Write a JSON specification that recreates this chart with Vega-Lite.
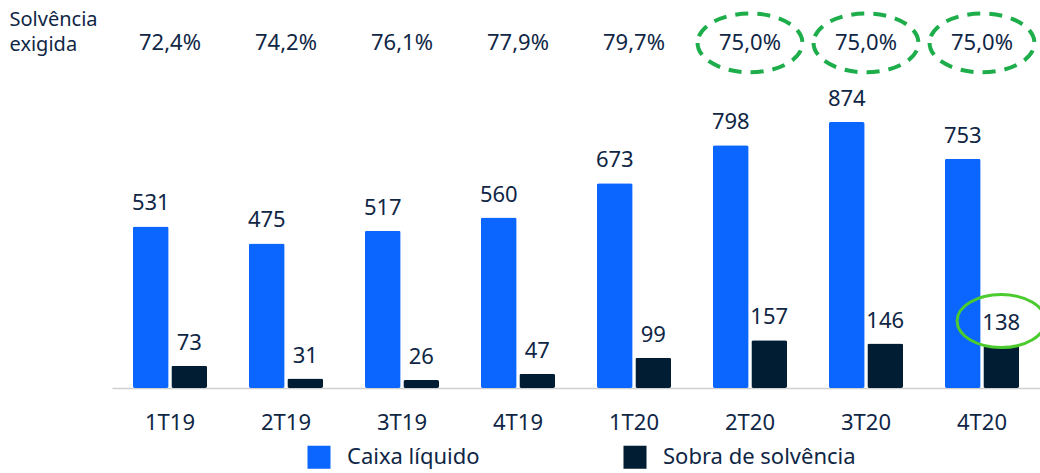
{
  "$schema": "https://vega.github.io/schema/vega-lite/v6.json",
  "width": 928,
  "height": 388,
  "autosize": {"type": "none"},
  "padding": {"left": 112, "top": 0, "right": 0, "bottom": 85},
  "config": {"view": {"stroke": null}, "font": "Noto Sans", "background": "white"},
  "datasets": {
    "bars": [
      {"q": "1T19", "serie": "Caixa líquido", "v": 531},
      {"q": "1T19", "serie": "Sobra de solvência", "v": 73},
      {"q": "2T19", "serie": "Caixa líquido", "v": 475},
      {"q": "2T19", "serie": "Sobra de solvência", "v": 31},
      {"q": "3T19", "serie": "Caixa líquido", "v": 517},
      {"q": "3T19", "serie": "Sobra de solvência", "v": 26},
      {"q": "4T19", "serie": "Caixa líquido", "v": 560},
      {"q": "4T19", "serie": "Sobra de solvência", "v": 47},
      {"q": "1T20", "serie": "Caixa líquido", "v": 673},
      {"q": "1T20", "serie": "Sobra de solvência", "v": 99},
      {"q": "2T20", "serie": "Caixa líquido", "v": 798},
      {"q": "2T20", "serie": "Sobra de solvência", "v": 157},
      {"q": "3T20", "serie": "Caixa líquido", "v": 874},
      {"q": "3T20", "serie": "Sobra de solvência", "v": 146},
      {"q": "4T20", "serie": "Caixa líquido", "v": 753},
      {"q": "4T20", "serie": "Sobra de solvência", "v": 138}
    ],
    "sol": [
      {"q": "1T19", "sol": "72,4%", "hl": false},
      {"q": "2T19", "sol": "74,2%", "hl": false},
      {"q": "3T19", "sol": "76,1%", "hl": false},
      {"q": "4T19", "sol": "77,9%", "hl": false},
      {"q": "1T20", "sol": "79,7%", "hl": false},
      {"q": "2T20", "sol": "75,0%", "hl": true},
      {"q": "3T20", "sol": "75,0%", "hl": true},
      {"q": "4T20", "sol": "75,0%", "hl": true}
    ],
    "mark138": [
      {"q": "4T20", "serie": "Sobra de solvência", "yc": 220}
    ]
  },
  "encoding": {
    "x": {
      "field": "q",
      "type": "nominal",
      "sort": ["1T19", "2T19", "3T19", "4T19", "1T20", "2T20", "3T20", "4T20"],
      "scale": {"paddingInner": 0.36, "paddingOuter": 0.18},
      "axis": {
        "title": null,
        "labelAngle": 0,
        "ticks": false,
        "labelPadding": 24,
        "labelFontSize": 22,
        "labelColor": "#0F2645",
        "domainColor": "#d0d0d0",
        "domainWidth": 1.5
      }
    }
  },
  "layer": [
    {
      "data": {"name": "bars"},
      "mark": {"type": "bar", "cornerRadius": 2},
      "encoding": {
        "xOffset": {"field": "serie", "type": "nominal", "scale": {"paddingInner": 0.07}},
        "y": {
          "field": "v",
          "type": "quantitative",
          "scale": {"domain": [0, 1275], "nice": false},
          "axis": {
            "title": ["Solvência", "exigida"],
            "titleAngle": 0,
            "titleAlign": "left",
            "titleBaseline": "top",
            "titleX": -103,
            "titleY": 9,
            "titleFontSize": 20,
            "titleFontWeight": "normal",
            "titleColor": "#0F2645",
            "titleLineHeight": 25,
            "labels": false,
            "ticks": false,
            "domain": false,
            "grid": false
          }
        },
        "color": {
          "field": "serie",
          "type": "nominal",
          "scale": {"domain": ["Caixa líquido", "Sobra de solvência"], "range": ["#0A66FF", "#001D33"]},
          "legend": {
            "title": null,
            "orient": "none",
            "direction": "horizontal",
            "legendX": 195,
            "legendY": 445,
            "symbolType": "square",
            "symbolSize": 530,
            "symbolStrokeWidth": 0,
            "labelFontSize": 22,
            "labelColor": "#0F2645",
            "labelOffset": 16,
            "labelLimit": 400,
            "columnPadding": 143
          }
        }
      }
    },
    {
      "data": {"name": "bars"},
      "mark": {"type": "text", "baseline": "alphabetic", "dy": -16, "fontSize": 22, "color": "#0F2645"},
      "encoding": {
        "xOffset": {"field": "serie", "type": "nominal"},
        "y": {"field": "v", "type": "quantitative"},
        "text": {"field": "v", "type": "quantitative"}
      }
    },
    {
      "data": {"name": "sol"},
      "mark": {"type": "text", "baseline": "middle", "fontSize": 22, "color": "#0F2645"},
      "encoding": {
        "y": {"datum": 1134},
        "text": {"field": "sol", "type": "nominal"}
      }
    },
    {
      "data": {"name": "sol"},
      "transform": [{"filter": "datum.hl"}],
      "mark": {
        "type": "point",
        "shape": "M -1 0 A 1 0.56 0 1 0 1 0 A 1 0.56 0 1 0 -1 0 Z",
        "size": 11000,
        "filled": false,
        "stroke": "#1DAE4B",
        "strokeWidth": 4,
        "strokeDash": [13, 9],
        "opacity": 1
      },
      "encoding": {
        "y": {"datum": 1134}
      }
    },
    {
      "data": {"name": "mark138"},
      "mark": {
        "type": "point",
        "shape": "M -1 0 A 1 0.6 0 1 0 1 0 A 1 0.6 0 1 0 -1 0 Z",
        "size": 7800,
        "filled": false,
        "stroke": "#4CCB2F",
        "strokeWidth": 3,
        "opacity": 1
      },
      "encoding": {
        "xOffset": {"field": "serie", "type": "nominal"},
        "y": {"field": "yc", "type": "quantitative"}
      }
    }
  ]
}
